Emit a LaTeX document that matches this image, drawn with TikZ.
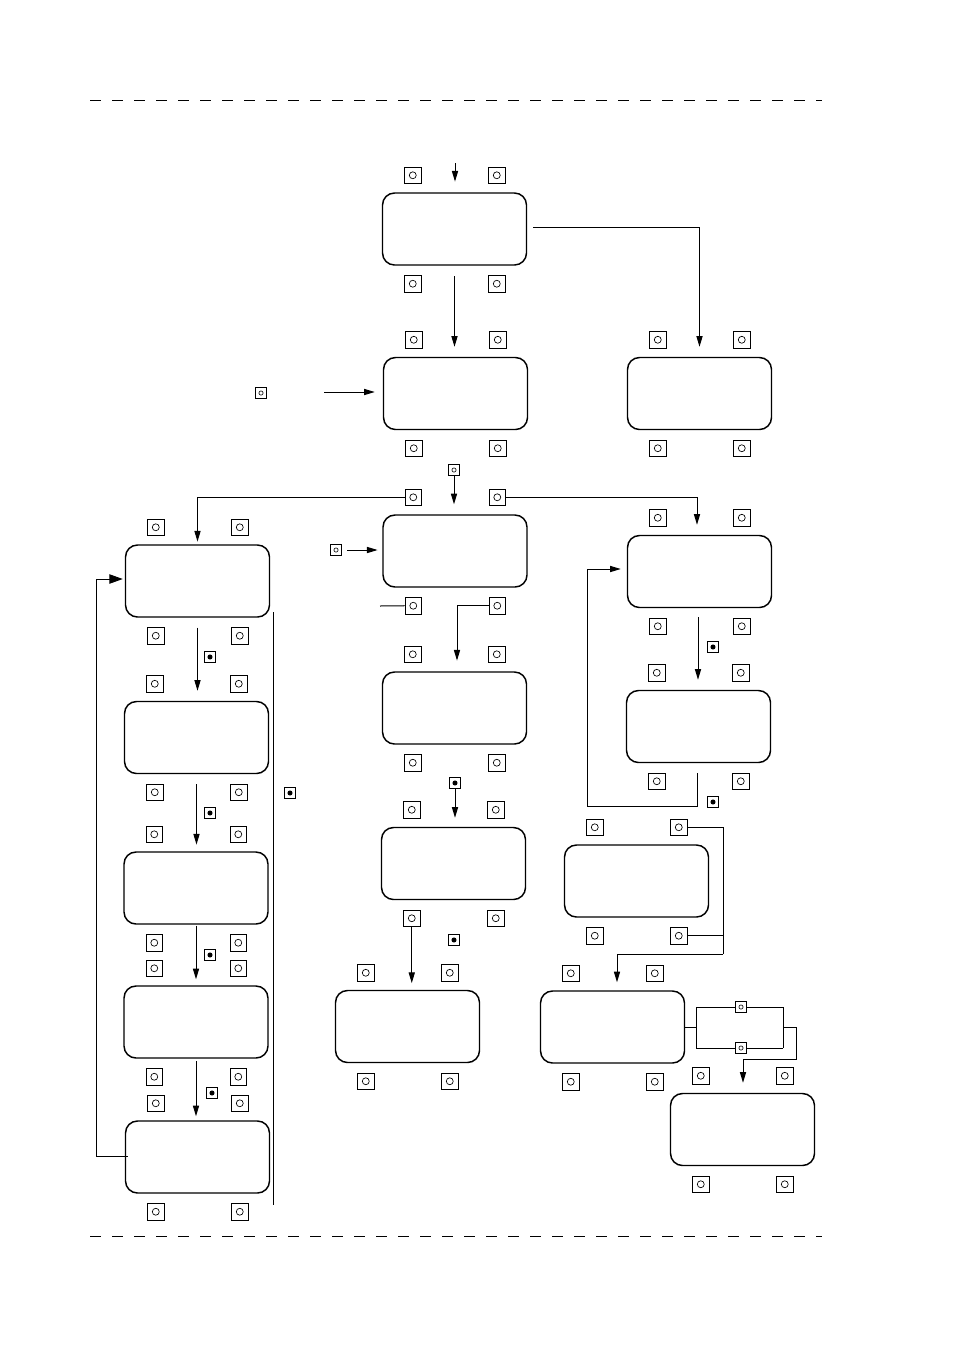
\documentclass[tikz,border=0pt]{standalone}
\usetikzlibrary{arrows.meta,calc}
\begin{document}
\begin{tikzpicture}[x=0.75pt,y=-0.75pt,
  line width=0.75pt,
  scr/.style={draw,line width=1.1pt,rounded corners=9pt,minimum width=108pt,minimum height=54pt,inner sep=0pt},
  btn/.style={draw,line width=0.6pt,minimum size=12.5pt,inner sep=0pt,
    path picture={\draw[line width=0.5pt] (path picture bounding box.center) circle (2.6pt);}},
  sbtn/.style={draw,line width=0.6pt,minimum size=8pt,inner sep=0pt,
    path picture={\draw[line width=0.45pt] (path picture bounding box.center) circle (1.6pt);}},
  dbtn/.style={draw,line width=0.6pt,minimum size=8.5pt,inner sep=0pt,
    path picture={\fill (path picture bounding box.center) circle (1.9pt);}},
  arr/.style={-{Triangle[length=8pt,width=4.6pt]}},
  bigarr/.style={-{Triangle[length=10pt,width=7pt]}},
  dline/.style={line width=0.6pt,dash pattern=on 8pt off 8.5pt}
]
\useasboundingbox (0,0) rectangle (954,1350);

\newcommand\mkbtns[1]{%
  \node[btn] (#1-tl) at ($(#1.north west)+(31,-17)$) {};
  \node[btn] (#1-tr) at ($(#1.north west)+(115,-17)$) {};
  \node[btn] (#1-bl) at ($(#1.south west)+(31,18)$) {};
  \node[btn] (#1-br) at ($(#1.south west)+(115,18)$) {};}

% dashed rules
\coordinate (dl1) at (90,100); \coordinate (dr1) at (822,100);
\coordinate (dl2) at (90,1236); \coordinate (dr2) at (822,1236);
\draw[dline] (dl1) -- (dr1);
\draw[dline] (dl2) -- (dr2);

% screens
\node[scr] (A) at (454.5,229) {};
\node[scr] (B) at (455.5,393.5) {};
\node[scr] (C) at (699.5,393.5) {};
\node[scr] (D) at (455,551) {};
\node[scr] (E) at (454.5,708) {};
\node[scr] (F) at (453.5,863.5) {};
\node[scr] (G) at (407.5,1026.5) {};
\node[scr] (L1) at (197.5,581) {};
\node[scr] (L2) at (196.5,737.5) {};
\node[scr] (L3) at (196,888) {};
\node[scr] (L4) at (196,1022) {};
\node[scr] (L5) at (197.5,1157) {};
\node[scr] (R1) at (699.5,571.5) {};
\node[scr] (R2) at (698.5,726.5) {};
\node[scr] (R3) at (636.5,881) {};
\node[scr] (R4) at (612.5,1027) {};
\node[scr] (R5) at (742.5,1129.5) {};

\foreach \n in {A,B,C,D,E,F,G,L1,L2,L3,L4,L5,R1,R2,R3,R4,R5}{\mkbtns{\n}}

% small buttons
\node[sbtn] (sb1) at (261,393) {};
\node[sbtn] (sb2) at (454,470) {};
\node[sbtn] (sb3) at (336,550) {};
\node[sbtn] (sb4) at (741,1007) {};
\node[sbtn] (sb5) at (741,1048) {};

% dot buttons
\node[dbtn] (d1) at (210,657) {};
\node[dbtn] (d2) at (210,813) {};
\node[dbtn] (d3) at (210,955) {};
\node[dbtn] (d4) at (212,1093) {};
\node[dbtn] (d5) at (290,793) {};
\node[dbtn] (d6) at (455,783) {};
\node[dbtn] (d7) at (454,940) {};
\node[dbtn] (d8) at (713,647) {};
\node[dbtn] (d9) at (713,802) {};

% free ends
\coordinate (inA) at (455,163);
\coordinate (inB) at (324,392);
\coordinate (stub) at (380,606);
\coordinate (lp) at (96,579);
\coordinate (rl) at (587,806);
\coordinate (r3a) at (723,954);
\coordinate (bl) at (696,1007);
\coordinate (bl2) at (696,1048);
\coordinate (br) at (783,1007);
\coordinate (br2) at (783,1048);
\coordinate (bx) at (796,1059);
\coordinate (v1) at (273,612);
\coordinate (v2) at (273,1205);

% top part
\draw[arr,shorten >=8pt] (inA) -- (inA |- A.north);
\draw[arr,shorten <=8pt,shorten >=7.5pt] (A.south) -- (A.south |- B.north);
\draw[arr,shorten <=4.5pt,shorten >=7.5pt] ($(A.east)+(0,-2)$) -| (C.north);
\draw[arr,shorten >=6pt] (inB) -- (inB -| B.west);
\draw[arr,shorten >=7.5pt] (sb2.south) -- (sb2.south |- D.north);
\draw[arr,shorten >=2pt] (D-tl.west) -| (L1.north);
\draw[arr,shorten >=7.5pt] (D-tr.east) -| ($(R1.north)+(-2.5,0)$);
\draw[arr,shorten <=4pt,shorten >=3.5pt] (sb3.east) -- (sb3.east -| D.west);
\draw (D-bl.west) -- (stub);

% middle column
\draw[arr,shorten >=8pt] (D-br.west) -| ($(E.north)+(2.5,0)$);
\draw[arr,shorten >=6.75pt] (d6.south) -- (d6.south |- F.north);
\draw[arr,shorten >=5pt] (F-bl.south) -- (F-bl.south |- G.north);

% left column
\draw[arr,shorten <=7.5pt,shorten >=7.5pt] (L1.south) -- (L1.south |- L2.north);
\draw[arr,shorten <=7.5pt,shorten >=5pt] (L2.south) -- (L2.south |- L3.north);
\draw[arr,shorten <=0.75pt,shorten >=4.5pt] (L3.south) -- (L3.south |- L4.north);
\draw[arr,shorten <=2pt,shorten >=3pt] (L4.south) -- (L4.south |- L5.north);
\draw[bigarr,shorten >=1.5pt] ($(L5.west)+(3,-1)$) -| (lp) -- (lp -| L1.west);
\draw (v1) -- (v2);

% right column
\draw[arr,shorten <=6.75pt,shorten >=7.5pt] ($(R1.south)+(-1.5,0)$) -- ($(R1.south |- R2.north)+(-1.5,0)$);
\draw[arr,shorten >=4.5pt] ($(R2.south)+(-1.5,10)$) |- (rl) |- ($(R1.west)+(0,-2.5)$);
\draw (R3-tr.east) -| (r3a);
\draw (R3-br.east) -- (R3-br.east -| r3a);
\draw[arr,shorten >=6pt] (r3a) -| ($(R4.north)+(4.5,0)$);
\draw (R4.east) -- (R4.east -| bl);
\draw (bl) -- (bl2);
\draw (bl) -- (sb4.west);
\draw (sb4.east) -- (br);
\draw (bl2) -- (sb5.west);
\draw (sb5.east) -- (br2);
\draw (br) -- (br2);
\draw[arr,shorten >=7.5pt] ($(br)!0.5!(br2)$) -| (bx) -| ($(R5.north)+(0.5,0)$);
\end{tikzpicture}
\end{document}
